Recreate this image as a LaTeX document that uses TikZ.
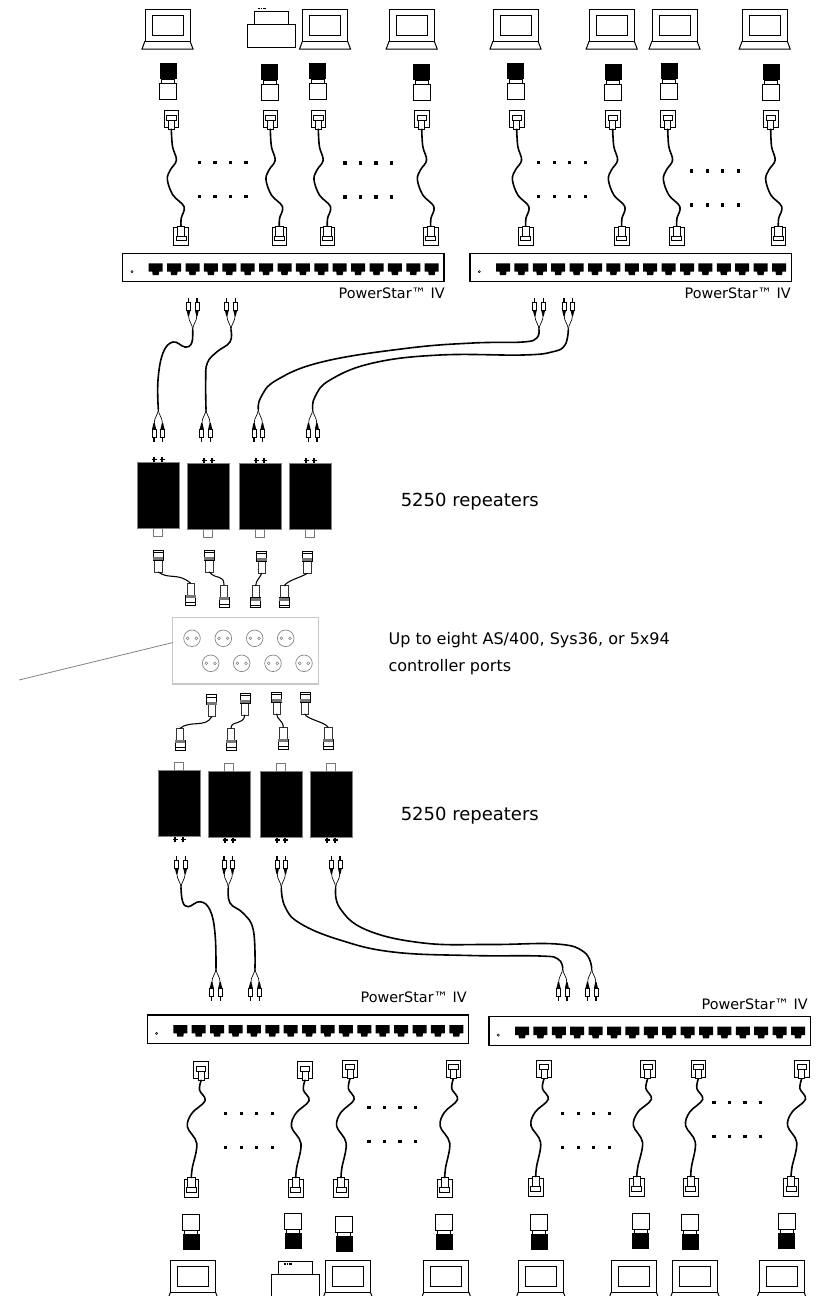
\documentclass[tikz,border=0pt]{standalone}
\usepackage{fontspec}
\setmainfont{DejaVu Sans}
\usetikzlibrary{calc}
\definecolor{panelGray}{RGB}{200,200,200}
\definecolor{socketGray}{RGB}{130,130,130}
\definecolor{bandGray}{RGB}{120,120,120}
\newcommand{\cableOut}[2]{plot[smooth,tension=.6] coordinates {(#1) ($(#1)!.18!(#2)+(-.5,0)$) ($(#1)!.32!(#2)+(2,0)$) ($(#1)!.42!(#2)+(-5,0)$) ($(#1)!.52!(#2)+(-9,0)$) ($(#1)!.68!(#2)+(-5,0)$) ($(#1)!.8!(#2)+(5,0)$) ($(#1)!.92!(#2)+(1,0)$) (#2)}}
\newcommand{\cableIn}[2]{plot[smooth,tension=.6] coordinates {(#1) ($(#1)!.1!(#2)+(-.7,0)$) ($(#1)!.21!(#2)+(6,0)$) ($(#1)!.34!(#2)+(-6,0)$) ($(#1)!.48!(#2)+(-9,0)$) ($(#1)!.65!(#2)+(2,0)$) ($(#1)!.9!(#2)+(0,0)$) (#2)}}
\tikzset{
  wire/.style={line width=.75pt,draw=black},
  cable/.style={line width=1.2pt,draw=black,line cap=round},
  coax/.style={line width=.8pt,draw=black,line cap=round},
  long cable/.style={cable,smooth,tension=.9},
  big label/.style={anchor=base west,inner sep=0pt,font=\fontsize{13.5}{16}\selectfont},
  port label/.style={anchor=base east,inner sep=0pt,font=\fontsize{10.8}{13}\selectfont},
  panel box/.style={draw=panelGray,line width=1pt,fill=white,inner sep=0pt,outer sep=0pt,minimum width=109.2pt,minimum height=49.7pt},
  laptop/.pic={
    \draw[wire] (-22.5,9) rectangle (22.5,41);
    \draw[wire] (-15.5,15) rectangle (15.5,35);
    \draw[wire] (-22.5,41) -- (-25.5,49) -- (25.5,49) -- (22.5,41);
  },
  printer/.pic={
    \draw[wire] (-17,0) rectangle (17,13);
    \draw[wire] (-24,13) rectangle (24,36);
  },
  adapter/.pic={
    \fill (-8.5,0) rectangle (8.5,16);
    \draw[wire,fill=white] (-6.5,16) rectangle (6.5,20);
    \draw[wire,fill=white] (-8.5,20) rectangle (8.5,36);
  },
  jack down/.pic={
    \draw[wire] (-7.3,0) rectangle (7.3,16.7);
    \draw[wire,fill=white] (-3,9) rectangle (3,18.5);
    \draw[wire,fill=white] (-4.7,4.3) rectangle (4.7,9.3);
    \coordinate (-end) at (0,18.5);
  },
  jack up/.pic={
    \draw[wire] (-7.3,0) rectangle (7.3,18);
    \draw[wire,fill=white] (-3.7,-1.7) rectangle (3.7,8.5);
    \draw[wire,fill=white] (-5,8.3) rectangle (5,13);
    \coordinate (-end) at (0,-1.7);
  },
  hub/.pic={
    \draw[wire,line width=.9pt] (0,0) rectangle (321.3,28.4);
    \draw[wire,line width=.4pt] (9.3,18.4) circle (1.1);
    \foreach \p in {0,...,15}{
      \fill[shift={({33+\p*18.4},0)}] (-7,10) -- (7,10) -- (7,18.3) -- (3.5,18.3) -- (3,21.7) -- (-3,21.7) -- (-3.5,18.3) -- (-7,18.3) -- cycle;
    }
  },
  rca/.pic={
    \foreach \s in {-4.2,4.2}{
      \draw[line width=.5pt] (0,0) .. controls (0,6) and (\s,8) .. (\s,15);
      \fill (\s-.6,14) -- (\s+.6,14) -- (\s+2,20) -- (\s-2,20) -- cycle;
      \draw[line width=.6pt,fill=white] (\s-2,20) rectangle (\s+2,28);
      \draw[line width=1pt] (\s,28) -- (\s,32.5);
    }
    \coordinate (-tail) at (0,0);
  },
  repeater/.pic={
    \foreach \s in {-4,4}{
      \draw[line width=1.5pt] (\s,0) -- (\s,-6);
      \draw[line width=.8pt] (\s-2.5,-3) -- (\s+2.5,-3);
    }
    \fill[draw=socketGray,line width=.4pt] (-21,0) rectangle (21,65.7);
    \draw[draw=bandGray,line width=.7pt,fill=white] (-4.5,65.7) rectangle (4.5,73.5);
  },
  bnc/.pic={
    \draw[wire,draw=black!80,fill=white] (-3.7,0) rectangle (3.7,12);
    \draw[wire,fill=white] (-5,12) rectangle (5,22);
    \fill[bandGray] (-5,12) rectangle (5,15);
    \draw[line width=.5pt] (-5,19.5) -- (5,19.5);
    \coordinate (-end) at (0,0);
  },
  socket/.pic={
    \draw[socketGray,line width=.5pt] (0,0) circle (8.3);
    \draw[socketGray,line width=.4pt] (-4.3,0) circle (1.4);
    \draw[socketGray,line width=.4pt] (4.3,0) circle (1.4);
  },
  dot grid/.pic={
    \foreach \k in {0,...,3}{
      \foreach \r in {0,34}{
        \fill ({\k*15.5-1.7},{\r-1.7}) rectangle +(3.4,3.4);
      }
    }
  }
}
\begin{document}
\begin{tikzpicture}[x=.75pt,y=-.75pt]
  \useasboundingbox (0,0) rectangle (815,1296);
  \clip (0,0) rectangle (815,1296);

  \foreach \x in {167.5,325,411.7,515.5,611.7,674.5,764.7}{\pic at (\x,0) {laptop};}
  \foreach \x in {193,347.8,446.3,540.8,633.8,695,781.5}{\pic at (\x,1251) {laptop};}
  \pic at (271.7,11) {printer};
  \pic at (295.5,1261) {printer};
  \draw[line width=1pt,dash pattern=on .8pt off .5pt] (257.5,8.5) -- (266,8.5);
  \draw[line width=1pt,dash pattern=on .8pt off .5pt] (283.5,1264) -- (292,1264);

  \foreach \x/\y in {168/63,269.5/64,317.7/63,421.7/64,515.7/63,613.3/64,669.3/63,771.3/64}{\pic at (\x,\y) {adapter};}
  \foreach \x/\y in {191.3/1250,293/1249,344/1252,444.3/1250,539/1250,640.7/1249,690/1250,786.7/1249}{\pic[yscale=-1] at (\x,\y) {adapter};}

  \foreach \n/\xa/\xb in {a/171.3/181,b/270.3/279.3,c/318.3/327.3,d/421.7/430.7,e/516.7/525.7,f/612.7/621.7,g/667.7/676.7,h/770.7/778.3}{
    \pic (ju\n) at (\xa,110.7) {jack down};
    \pic (jl\n) at (\xb,227.7) {jack up};
    \draw[cable] \cableOut{ju\n-end}{jl\n-end};
  }
  \foreach \n/\xa/\ya/\xb/\yb in {a/201.2/1061.7/191.3/1179.3,b/305/1061.7/295.7/1179.3,c/350/1060.3/341/1179.3,d/453.3/1060.3/444.7/1179.3,e/544/1060.3/535.7/1178.3,f/647.7/1060.3/636.7/1178.3,g/698.3/1060.3/690.7/1178.3,h/801.7/1060.3/791/1178.3}{
    \pic (ku\n) at (\xa,\ya) {jack down};
    \pic (kl\n) at (\xb,\yb) {jack up};
    \draw[cable] \cableIn{ku\n-end}{kl\n-end};
  }

  \pic at (199.3,162.3) {dot grid};
  \pic at (345,163) {dot grid};
  \pic at (538.7,162.3) {dot grid};
  \pic at (691.7,171) {dot grid};
  \pic at (225.7,1113.7) {dot grid};
  \pic at (369,1107.7) {dot grid};
  \pic at (562.7,1113.7) {dot grid};
  \pic at (714,1102.7) {dot grid};

  \pic at (122.7,253.3) {hub};
  \pic at (470,253.3) {hub};
  \pic at (147.3,1015) {hub};
  \pic at (489,1016.7) {hub};
  \node[port label] (starA) at (445,298) {PowerStar™ IV};
  \node[port label] (starB) at (791,298) {PowerStar™ IV};
  \node[port label] (starC) at (467,1002.7) {PowerStar™ IV};
  \node[port label] (starD) at (808,1009) {PowerStar™ IV};

  \foreach \n/\x in {a/192.7,b/231,c/539,d/568.3}{\pic[yscale=-1] (up\n) at (\x,330) {rca};}
  \foreach \n/\x in {a/158.3,b/206,c/258.3,d/312.7}{\pic (rt\n) at (\x,409) {rca};}
  \foreach \n/\x in {a/181,b/228.3,c/281.3,d/335.7}{\pic[yscale=-1] (rb\n) at (\x,888) {rca};}
  \foreach \n/\x in {a/216,b/255,c/562.7,d/591.7}{\pic (dn\n) at (\x,968) {rca};}

  \draw[cable] plot[smooth,tension=.7] coordinates {(upa-tail) (191.7,343) (185,347) (173,342) (163,353) (158,380) (rta-tail)};
  \draw[cable] plot[smooth,tension=.7] coordinates {(upb-tail) (230,342) (216.7,352) (207.3,363) (205.7,380) (rtb-tail)};
  \draw[long cable] plot[smooth,tension=.7] coordinates {(upc-tail) (536.7,338) (523,342) (473,343) (406.7,348.3) (323,361.7) (276.7,380) (261,397) (rtc-tail)};
  \draw[long cable] plot[smooth,tension=.7] coordinates {(upd-tail) (565,345) (553,351.7) (523,355) (440,355) (373,363) (330,380) (315,396.7) (rtd-tail)};
  \draw[cable] plot[smooth,tension=.7] coordinates {(rba-tail) (182.7,901.7) (188.3,906.7) (200,901.7) (210,910) (215,933.3) (dna-tail)};
  \draw[cable] plot[smooth,tension=.7] coordinates {(rbb-tail) (230,903) (243.3,913.3) (253.3,930) (dnb-tail)};
  \draw[long cable] plot[smooth,tension=.7] coordinates {(rbc-tail) (285,906.7) (300,923.3) (340,940) (393,952) (470,955.5) (540,956) (558,959) (dnc-tail)};
  \draw[long cable] plot[smooth,tension=.7] coordinates {(rbd-tail) (340,908.3) (366.7,930) (423.3,943) (490,944.5) (556.7,944) (584,952) (dnd-tail)};

  \foreach \x/\y in {158/462.7,208/463.7,260/463.7,310.3/463.7}{\pic at (\x,\y) {repeater};}
  \foreach \x/\y in {179/836.3,229/837,281/837,331/837}{\pic[yscale=-1] at (\x,\y) {repeater};}

  \foreach \n/\xa/\ya/\xb/\yb in {a/158.3/572/190.7/583.3,b/209.3/572/224/585,c/261.7/573.3/255.7/585.7,d/307.3/573.3/284.3/585.7}{
    \pic[yscale=-1] (ca\n) at (\xa,\ya) {bnc};
    \pic (cb\n) at (\xb,\yb) {bnc};
  }
  \foreach \n/\xa/\ya/\xb/\yb in {a/211.7/716.7/180/728.3,b/245/715/231/728.3,c/276.7/714/283.3/727.3,d/305/714/328.3/727.3}{
    \pic[yscale=-1] (cc\n) at (\xa,\ya) {bnc};
    \pic (cd\n) at (\xb,\yb) {bnc};
  }
  \draw[coax] (caa-end) .. controls (169,580) and (178,572) .. (cba-end);
  \draw[coax] (cab-end) .. controls (216,580) and (224,574) .. (cbb-end);
  \draw[coax] (cac-end) .. controls (260,578) and (256,580) .. (cbc-end);
  \draw[coax] (cad-end) .. controls (300,578) and (288,580) .. (cbd-end);
  \draw[coax] (cca-end) .. controls (206,728) and (190,720) .. (cda-end);
  \draw[coax] (ccb-end) .. controls (243,726) and (231,720) .. (cdb-end);
  \draw[coax] (ccc-end) .. controls (277,720) and (283,720) .. (cdc-end);
  \draw[coax] (ccd-end) .. controls (306,719) and (325,722) .. (cdd-end);

  \node[panel box] (panel) at (245.5,650.8) {};
  \foreach \x in {192,223.3,254.7,285.7}{\pic at (\x,638.3) {socket};}
  \foreach \x in {210.7,241.7,273,304}{\pic at (\x,663.3) {socket};}
  \coordinate (lineEnd) at (19,680);
  \draw[socketGray,line width=.6pt] (lineEnd) -- ($(panel.north west)!.376!(panel.south west)$);

  \node[big label] (repeatersA) at (400.5,506) {5250 repeaters};
  \node[big label] (repeatersB) at (400.5,820) {5250 repeaters};
  \node[big label,font=\fontsize{12}{20}\selectfont,align=left,anchor=north west] (ports) at (388.3,632) {Up to eight AS/400, Sys36, or 5x94\\controller ports};
\end{tikzpicture}
\end{document}
